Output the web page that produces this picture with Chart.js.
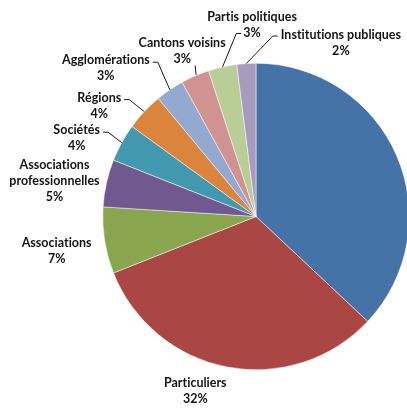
<!DOCTYPE html>
<html lang="fr">
<head>
<meta charset="UTF-8">
<title>Répartition</title>
<script src="https://cdn.jsdelivr.net/npm/chart.js"></script>
<style>
  html, body { margin: 0; padding: 0; background: #fff; overflow: hidden; }
  #wrap { width: 410px; height: 410px; }
</style>
</head>
<body>
<div id="wrap"><canvas id="chart" width="410" height="410"></canvas></div>
<script>
  // first slice carries no label in the original
  const categories = ['', 'Particuliers', 'Associations', ['Associations', 'professionnelles'], 'Sociétés',
    'Régions', 'Agglomérations', 'Cantons voisins', 'Partis politiques', 'Institutions publiques'];
  const shares = [37, 32, 7, 5, 4, 4, 3, 3, 3, 2];

  const sliceColors = ['#4572A7', '#AA4643', '#89A54E', '#71588F', '#4198AF',
    '#DB843D', '#93A9CF', '#D19392', '#B9CD96', '#A99BBD'];

  // where each label sits, relative to the middle of the slice's outer edge
  // [dx, dy of first text line, leader style]
  const labelShift = [
    null,
    [-32, 16, ''],
    [-48, 2.5, ''],
    [-52, -18, ''],
    [-45, -12.5, 'right'],
    [-45, -14, 'right'],
    [-64, -29.5, 'right'],
    [-13, -32.5, 'below'],
    [29.5, -49.5, 'left2'],
    [94.5, -28.5, 'left']
  ];

  const LINE_H = 16;
  const FONT = 'bold 12.5px Lato, "Open Sans", sans-serif';

  const labelPlugin = {
    id: 'sliceLabels',
    afterDatasetsDraw(chart) {
      const ctx = chart.ctx;
      const arcs = chart.getDatasetMeta(0).data;
      ctx.save();
      ctx.font = FONT;
      ctx.letterSpacing = '0.01px'; // keeps "ti" from turning into a ligature
      ctx.fillStyle = '#141414';
      ctx.strokeStyle = '#1a1a1a';
      ctx.lineWidth = 1;
      ctx.textAlign = 'center';
      ctx.textBaseline = 'middle';
      arcs.forEach((arc, i) => {
        const shift = labelShift[i];
        if (!shift || !categories[i]) return;
        const p = arc.getProps(['x', 'y', 'startAngle', 'endAngle', 'outerRadius'], true);
        const mid = (p.startAngle + p.endAngle) / 2;
        const ex = p.x + Math.cos(mid) * p.outerRadius;
        const ey = p.y + Math.sin(mid) * p.outerRadius;
        const lx = ex + shift[0];
        const ly = ey + shift[1];
        const lines = [].concat(categories[i], Math.round(shares[i]) + '%');
        lines.forEach((t, k) => ctx.fillText(t, lx, ly + k * LINE_H));

        const w0 = ctx.measureText(lines[0]).width;
        const wLast = ctx.measureText(lines[lines.length - 1]).width;
        ctx.beginPath();
        if (shift[2] === 'right') {
          const sx = lx + w0 / 2 + 3;
          ctx.moveTo(sx, ly + 2);
          ctx.lineTo(sx + 5, ly + 2);
          ctx.lineTo(ex, ey);
        } else if (shift[2] === 'left') {
          const sx = lx - w0 / 2 - 3;
          ctx.moveTo(sx, ly + 1);
          ctx.lineTo(sx - 5, ly + 1);
          ctx.lineTo(ex, ey);
        } else if (shift[2] === 'left2') {
          const sx = lx - wLast / 2 - 2;
          const sy = ly + LINE_H;
          ctx.moveTo(sx, sy);
          ctx.lineTo(sx - 5, sy);
          ctx.lineTo(ex, ey);
        } else if (shift[2] === 'below') {
          ctx.moveTo(lx + 13, ly + LINE_H + 6);
          ctx.lineTo(ex + 1, ey - 1);
        }
        ctx.stroke();
      });
      ctx.restore();
    }
  };

  new Chart(document.getElementById('chart'), {
    type: 'pie',
    data: {
      labels: categories,
      datasets: [{
        data: shares,
        backgroundColor: sliceColors,
        borderColor: '#ffffff',
        borderWidth: 0.5
      }]
    },
    options: {
      responsive: false,
      animation: false,
      layout: { padding: { left: 102, right: 0, top: 63, bottom: 40 } },
      plugins: {
        legend: { display: false },
        tooltip: { enabled: false }
      }
    },
    plugins: [labelPlugin]
  });
</script>
</body>
</html>
